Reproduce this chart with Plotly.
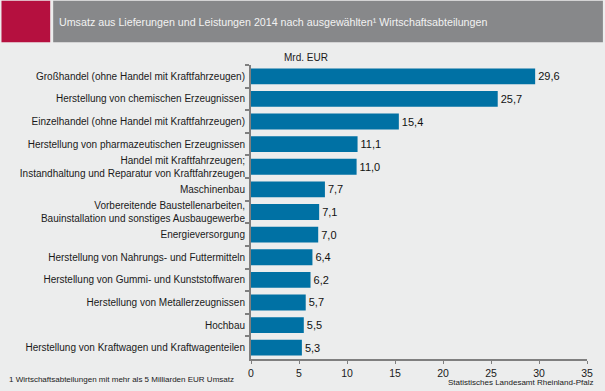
import plotly.graph_objects as go

categories = [
    "Großhandel (ohne Handel mit Kraftfahrzeugen)",
    "Herstellung von chemischen Erzeugnissen",
    "Einzelhandel (ohne Handel mit Kraftfahrzeugen)",
    "Herstellung von pharmazeutischen Erzeugnissen",
    "Handel mit Kraftfahrzeugen;<br>Instandhaltung und Reparatur von Kraftfahrzeugen",
    "Maschinenbau",
    "Vorbereitende Baustellenarbeiten,<br>Bauinstallation und sonstiges Ausbaugewerbe",
    "Energieversorgung",
    "Herstellung von Nahrungs- und Futtermitteln",
    "Herstellung von Gummi- und Kunststoffwaren",
    "Herstellung von Metallerzeugnissen",
    "Hochbau",
    "Herstellung von Kraftwagen und Kraftwagenteilen",
]
values = [29.6, 25.7, 15.4, 11.1, 11.0, 7.7, 7.1, 7.0, 6.4, 6.2, 5.7, 5.5, 5.3]
x_ticks = [0, 5, 10, 15, 20, 25, 30, 35]

title_text = "Umsatz aus Lieferungen und Leistungen 2014 nach ausgewählten¹ Wirtschaftsabteilungen"
unit_text = "Mrd. EUR"
footnote_text = "1 Wirtschaftsabteilungen mit mehr als 5 Milliarden EUR Umsatz"
source_text = "Statistisches Landesamt Rheinland-Pfalz"

W, H = 605, 391
L, R, T, B = 251, 16, 65, 29
PW, PH = W - L - R, H - T - B


def px(x):
    return (x - L) / PW


def py(y):
    return (H - B - y) / PH


FONT = "Liberation Sans, Arial, sans-serif"
BAR = "#0071A4"
AXIS = "#7F7F7F"

fig = go.Figure(
    go.Bar(
        x=values,
        y=categories,
        orientation="h",
        marker=dict(color=BAR, line=dict(width=0)),
        width=0.7,
        text=values,
        texttemplate="%{x:.1f}",
        textposition="outside",
        textfont=dict(size=11, color="#111111", family=FONT),
        cliponaxis=False,
        hoverinfo="skip",
    )
)

fig.update_layout(
    width=W,
    height=H,
    margin=dict(l=L, r=R, t=T, b=B),
    paper_bgcolor="#ECEDED",
    plot_bgcolor="#ECEDED",
    separators=",.",
    showlegend=False,
    font=dict(family=FONT, size=10, color="#1A1A1A"),
    xaxis=dict(
        range=[0, 35],
        tickvals=x_ticks,
        ticktext=[str(v) for v in x_ticks],
        showgrid=False,
        zeroline=False,
        showline=True,
        linecolor=AXIS,
        linewidth=2,
        ticks="outside",
        ticklen=3,
        tickcolor=AXIS,
        tickwidth=1,
        tickfont=dict(size=10.5, color="#1A1A1A"),
        fixedrange=True,
    ),
    yaxis=dict(
        autorange="reversed",
        showgrid=False,
        zeroline=False,
        showline=True,
        linecolor=AXIS,
        linewidth=2,
        ticks="outside",
        tickson="boundaries",
        ticklen=4,
        tickcolor=AXIS,
        tickwidth=2,
        ticklabelstandoff=2,
        tickfont=dict(size=10, color="#1A1A1A"),
        fixedrange=True,
    ),
    shapes=[
        dict(type="rect", xref="paper", yref="paper",
             x0=px(0), x1=px(49), y0=py(0), y1=py(42),
             fillcolor="#B5103F", line=dict(width=0), layer="above"),
        dict(type="rect", xref="paper", yref="paper",
             x0=px(52), x1=px(605), y0=py(0), y1=py(42),
             fillcolor="#87888A", line=dict(width=0), layer="above"),
    ],
    annotations=[
        dict(text=title_text, xref="paper", yref="paper",
             x=px(56), y=py(21.5), xanchor="left", yanchor="middle",
             showarrow=False, font=dict(size=10.7, color="#F2F2F2", family=FONT)),
        dict(text=unit_text, xref="paper", yref="paper",
             x=px(282), y=py(57), xanchor="left", yanchor="middle",
             showarrow=False, font=dict(size=10, color="#1A1A1A", family=FONT)),
        dict(text=footnote_text, xref="paper", yref="paper",
             x=px(6), y=py(383), xanchor="left", yanchor="middle",
             showarrow=False, font=dict(size=8, color="#1A1A1A", family=FONT)),
        dict(text=source_text, xref="paper", yref="paper",
             x=px(597), y=py(386), xanchor="right", yanchor="middle",
             showarrow=False, font=dict(size=8, color="#1A1A1A", family=FONT)),
    ],
)

fig.write_html(
    "out.html",
    config={"displayModeBar": False, "staticPlot": True},
    post_script="document.body.style.margin='0';document.body.style.padding='0';",
)
